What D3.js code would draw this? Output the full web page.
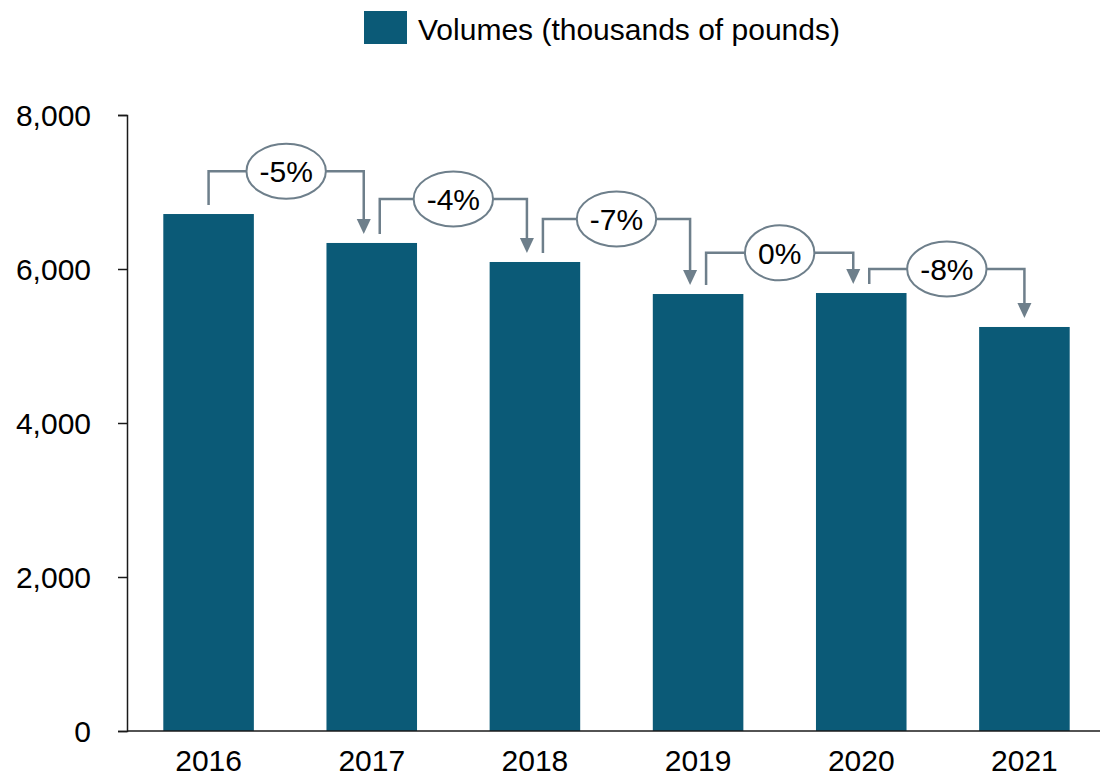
<!DOCTYPE html>
<html lang="en">
<head>
	<meta charset="UTF-8">
	<title>Volumes</title>
	<script src="https://cdn.jsdelivr.net/npm/d3@7"></script>
	<style>
		body { margin: 0; background: #fff; }
		text { font-family: "Liberation Sans", Arial, sans-serif; }
		.axis path, .axis line { stroke: #1a1a1a; stroke-width: 1.5px; }
		.axis text { font-size: 30px; fill: #000; }
	</style>
</head>
<body>
<script>
	// data
	var years = ["2016", "2017", "2018", "2019", "2020", "2021"];
	var volumes = [6714, 6338, 6091, 5675, 5688, 5247];
	var changes = ["-5%", "-4%", "-7%", "0%", "-8%"];
	// height of each change bracket, in data units
	var bracketLevels = [7270, 6910, 6650, 6210, 6000];
	var yTicks = [0, 2000, 4000, 6000, 8000];
	var legendLabel = "Volumes (thousands of pounds)";

	var width = 1100, height = 777;
	var barColor = "#0b5a77", lineColor = "#6e7f8b";

	var svg = d3.select("body").append("svg")
		.attr("width", width)
		.attr("height", height);

	var x = d3.scaleBand().domain(years).range([127, 1106])
		.paddingInner(0.445).paddingOuter(0.2225);
	var y = d3.scaleLinear().domain([0, 8000]).range([731, 115]);

	// bars
	svg.selectAll(".bar")
		.data(volumes)
		.enter().append("rect")
		.attr("class", "bar")
		.attr("x", function(d, i) { return x(years[i]); })
		.attr("y", function(d) { return y(d); })
		.attr("width", x.bandwidth())
		.attr("height", function(d) { return y(0) - y(d); })
		.attr("fill", barColor);

	// y axis
	svg.append("g")
		.attr("class", "axis")
		.attr("transform", "translate(127,0)")
		.call(d3.axisLeft(y).tickValues(yTicks).tickFormat(d3.format(",")).tickSize(9).tickSizeOuter(9).tickPadding(27))
		.call(function(g) { g.selectAll("text").attr("dy", "0.35em"); });

	// x axis
	var xAxis = svg.append("g")
		.attr("class", "axis")
		.attr("transform", "translate(0," + y(0) + ")")
		.call(d3.axisBottom(x).tickSize(0).tickPadding(19));
	xAxis.select(".domain").attr("d", "M127,0H1100");

	// change brackets
	var cx = function(i) { return x(years[i]) + x.bandwidth() / 2; };
	var gap = 9, headH = 15, headW = 14;
	changes.forEach(function(label, i) {
		var x0 = cx(i) + (i > 0 ? 8 : 0);
		var x1 = cx(i + 1) - (i + 1 < years.length - 1 ? 8 : 0);
		var ly = y(bracketLevels[i]);
		var y0 = y(volumes[i]) - gap;
		var tip = y(volumes[i + 1]) - gap;
		var g = svg.append("g");
		g.append("path")
			.attr("d", "M" + x0 + "," + y0 + "V" + ly + "H" + x1 + "V" + (tip - headH + 1))
			.attr("fill", "none")
			.attr("stroke", lineColor)
			.attr("stroke-width", 2.5);
		g.append("path")
			.attr("d", "M" + (x1 - headW / 2) + "," + (tip - headH) + "L" + (x1 + headW / 2) + "," + (tip - headH) + "L" + x1 + "," + tip + "Z")
			.attr("fill", lineColor);
		var mx = (x0 + x1) / 2;
		var ell = g.append("ellipse")
			.attr("cx", mx).attr("cy", ly)
			.attr("ry", 27.5)
			.attr("fill", "#fff")
			.attr("stroke", lineColor)
			.attr("stroke-width", 2);
		var t = g.append("text")
			.attr("x", mx).attr("y", ly)
			.attr("dy", "0.36em")
			.attr("text-anchor", "middle")
			.attr("font-size", 30)
			.text(label);
		ell.attr("rx", t.node().getComputedTextLength() / 2 + 13);
	});

	// legend
	var legend = svg.append("g");
	legend.append("rect")
		.attr("x", 364).attr("y", 11)
		.attr("width", 43).attr("height", 33)
		.attr("fill", barColor);
	legend.append("text")
		.attr("x", 418).attr("y", 40)
		.attr("font-size", 30)
		.text(legendLabel);
</script>
</body>
</html>
